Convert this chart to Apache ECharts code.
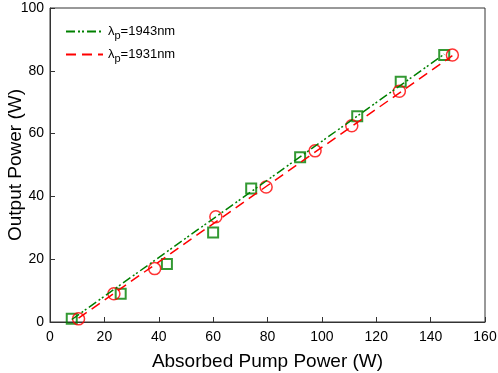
<!DOCTYPE html>
<html><head><meta charset="utf-8">
<script src="https://cdn.jsdelivr.net/npm/echarts@6/dist/echarts.min.js"></script>
<style>html,body{margin:0;padding:0;background:#fff}#c{width:498px;height:373px}</style>
</head><body><div id="c"></div>
<script>
const greenX = [8, 26, 43, 60, 74, 92, 113, 129, 145];
const greenY = [1, 9, 18.5, 28.5, 42.5, 52.5, 65.5, 76.5, 85];
const redX = [10.5, 23.5, 38.5, 61, 79.5, 97.5, 111, 128.5, 148];
const redY = [1, 9, 17, 33.5, 43, 54.5, 62.5, 73.5, 85];
const greenFitX = [8, 145];
const greenFitY = [0.8, 85.3];
const redFitX = [10.5, 148];
const redFitY = [1.2, 84.8];
const xTicks = [0, 20, 40, 60, 80, 100, 120, 140, 160];
const yTicks = [0, 20, 40, 60, 80, 100];
const legendNames = ['1943', '1931'];

const zip = (a, b) => a.map((v, i) => [v, b[i]]);
const font = 'Liberation Sans, Arial, sans-serif';
const chart = echarts.init(document.getElementById('c'));
chart.setOption({
  animation: false,
  grid: {left: 50, top: 8, right: 13, bottom: 51, containLabel: false, outerBoundsMode: 'none',
         show: true, borderColor: '#333', borderWidth: 1},
  legend: {
    left: 60, top: 20, orient: 'vertical', itemWidth: 37, itemHeight: 10, itemGap: 7,
    data: ['g', 'r'],
    itemStyle: {opacity: 0, borderWidth: 0},
    formatter: n => '{a|λ}{b|p}{a|=' + (n === 'g' ? legendNames[0] : legendNames[1]) + 'nm}',
    textStyle: {fontFamily: font, color: '#000', rich: {
      a: {fontSize: 13, fontFamily: font, color: '#000'},
      b: {fontSize: 11, fontFamily: font, color: '#000', padding: [8, 0, 0, 0]}
    }}
  },
  xAxis: {
    type: 'value', min: 0, max: 160, interval: 20,
    name: 'Absorbed Pump Power (W)', nameLocation: 'middle', nameGap: 30, nameMoveOverlap: false,
    nameTextStyle: {fontSize: 19, fontFamily: font, color: '#000'},
    axisLine: {lineStyle: {color: '#333'}},
    axisTick: {inside: true, length: 5, lineStyle: {color: '#333'}},
    axisLabel: {fontSize: 14, fontFamily: font, color: '#000', margin: 8},
    splitLine: {show: false}
  },
  yAxis: {
    type: 'value', min: 0, max: 100, interval: 20,
    name: 'Output Power (W)', nameLocation: 'middle', nameGap: 25, nameMoveOverlap: false,
    nameTextStyle: {fontSize: 19, fontFamily: font, color: '#000'},
    axisLine: {show: true, lineStyle: {color: '#333'}},
    axisTick: {show: true, inside: true, length: 5, lineStyle: {color: '#333'}},
    axisLabel: {fontSize: 14, fontFamily: font, color: '#000', margin: 6},
    splitLine: {show: false}
  },
  series: [
    {name: 'g', type: 'line', data: zip(greenFitX, greenFitY), symbol: 'none',
     lineStyle: {color: '#008000', width: 1.5, type: [9, 3, 2, 2, 2, 3]}, itemStyle: {color: '#008000'}},
    {name: 'r', type: 'line', data: zip(redFitX, redFitY), symbol: 'none',
     lineStyle: {color: '#ff0000', width: 1.5, type: [10, 6]}, itemStyle: {color: '#ff0000'}},
    {name: 'gs', type: 'scatter', data: zip(greenX, greenY), symbol: 'rect', symbolSize: 10,
     itemStyle: {color: 'rgba(0,0,0,0)', borderColor: '#008000', borderWidth: 2}},
    {name: 'rs', type: 'scatter', data: zip(redX, redY), symbol: 'circle', symbolSize: 12,
     itemStyle: {color: 'rgba(0,0,0,0)', borderColor: '#ff0000', borderWidth: 1.5}}
  ]
});
</script></body></html>
